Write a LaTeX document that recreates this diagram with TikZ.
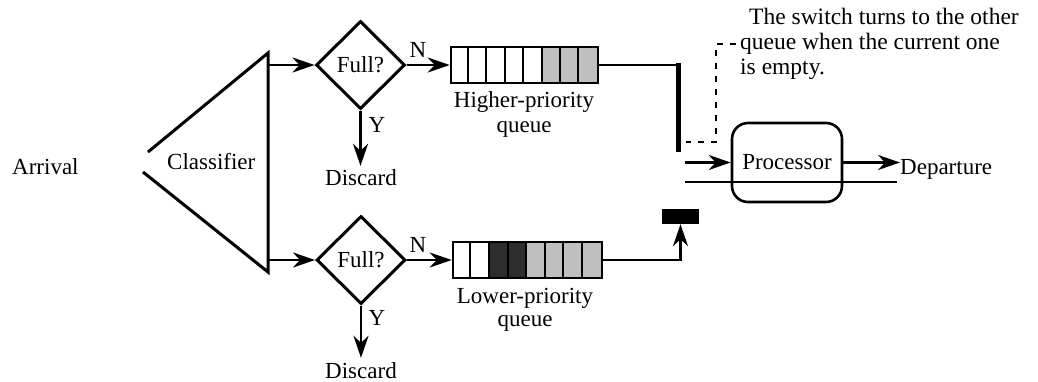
\documentclass[tikz,border=0pt]{standalone}
\usepackage{fontspec}
\setmainfont{Liberation Serif}
\usetikzlibrary{arrows.meta,shapes.geometric,calc}
\begin{document}
\begin{tikzpicture}[x=1pt,y=-1pt,
  txt/.style={font=\fontsize{23}{26}\selectfont, inner sep=0pt},
  note/.style={font=\fontsize{23.5}{26}\selectfont, inner sep=0pt, anchor=base west},
  arr/.style={line width=2.6pt, -{Stealth[length=22pt,width=15pt,inset=7pt]}},
  plain/.style={line width=2.6pt},
  decision/.style={diamond, draw, line width=3pt, minimum width=89pt, minimum height=88pt, inner sep=0pt, font=\fontsize{23}{26}\selectfont},
  queuebox/.style={draw, line width=2.6pt, minimum height=36pt, inner sep=0pt},
  procbox/.style={draw, line width=2.6pt, rounded corners=16pt, minimum width=110pt, minimum height=79pt, inner sep=0pt, font=\fontsize{23}{26}\selectfont},
  switchbar/.style={fill=black, inner sep=0pt},
  cellline/.style={line width=2pt},
  lightcell/.style={fill=black!25},
  darkcell/.style={fill=black!82},
  dashline/.style={line width=1.6pt, dash pattern=on 6pt off 7pt},
]
\useasboundingbox (0,0) rectangle (1038,381);

% Arrival and classifier
\node[txt, anchor=base west] (arrival) at (12,174) {Arrival};
\coordinate (t1) at (148,152);
\coordinate (t2) at (268,53);
\coordinate (t3) at (268,272);
\coordinate (t4) at (143,172);
\draw[line width=3pt, line join=miter] (t1) -- (t2) -- (t3) -- (t4);
\node[txt, anchor=base west] (cls) at (167,169) {Classifier};
\coordinate (c1) at (268,65);
\coordinate (c2) at (268,260);

% Decisions
\node[decision] (d1) at (360.5,65) {Full?};
\node[decision] (d2) at (361,260) {Full?};
\draw[arr] (c1) -- (d1.west);
\draw[arr] (c2) -- (d2.west);

\node[txt, anchor=base] (n1) at (418,57) {N};
\node[txt, anchor=base] (n2) at (418,252) {N};
\node[txt, anchor=base] (y1) at (377,132) {Y};
\node[txt, anchor=base] (y2) at (377,325) {Y};
\node[txt, anchor=base] (disc1) at (361,185) {Discard};
\node[txt, anchor=base] (disc2) at (361,378) {Discard};
\draw[arr, shorten >=3pt] (d1.south) -- (d1.south |- disc1.north);
\draw[arr, shorten >=4pt] (d2.south) -- (d2.south |- disc2.north);

% Queues
\node[queuebox, minimum width=147pt] (hq) at (524.5,65) {};
\node[queuebox, minimum width=149pt] (lq) at (527.5,260) {};
\foreach \i in {5,6,7}
  \fill[lightcell] ($(hq.west)+(\i*18.375,-17)$) rectangle ($(hq.west)+(\i*18.375+18.375,17)$);
\foreach \i in {2,3}
  \fill[darkcell] ($(lq.west)+(\i*18.625,-17)$) rectangle ($(lq.west)+(\i*18.625+18.625,17)$);
\foreach \i in {4,5,6,7}
  \fill[lightcell] ($(lq.west)+(\i*18.625,-17)$) rectangle ($(lq.west)+(\i*18.625+18.625,17)$);
\foreach \i in {1,...,7} {
  \draw[cellline] ($(hq.north west)+(\i*18.375,0)$) -- ($(hq.south west)+(\i*18.375,0)$);
  \draw[cellline] ($(lq.north west)+(\i*18.625,0)$) -- ($(lq.south west)+(\i*18.625,0)$);
}
\draw[arr] (d1.east) -- (hq.west);
\draw[arr] (d2.east) -- (lq.west);
\node[txt, anchor=base] (hl1) at (524,107) {Higher-priority};
\node[txt, anchor=base] (hl2) at (524,132) {queue};
\node[txt, anchor=base] (ll1) at (525,303) {Lower-priority};
\node[txt, anchor=base] (ll2) at (525,326) {queue};

% Switch
\node[switchbar, minimum width=5pt, minimum height=89pt] (sw1) at (678,107.5) {};
\node[switchbar, minimum width=37pt, minimum height=15pt] (sw2) at (680.5,216.5) {};
\draw[plain] (hq.east) -- (hq.east -| sw1.center);
\draw[arr] (lq.east) -| (sw2.south);

% Annotation
\node[note] (a1) at (749,24) {The switch turns to the other};
\node[note] (a2) at (740,49) {queue when the current one};
\node[note] (a3) at (740,74) {is empty.};
\coordinate (nt) at (736,44);
\coordinate (dc) at (716,142);
\coordinate (dend) at (686,142);
\draw[dashline] (nt) -| (dc) -- (dend);

% Processor
\node[procbox] (proc) at (787,162.5) {Processor};
\coordinate (pin) at (685,162.5);
\draw[arr] (pin) -- (proc.west);
\coordinate (la) at (685,182);
\coordinate (lb) at (897,182);
\draw[line width=1.8pt] (la) -- (lb);
\node[txt, anchor=base west] (dep) at (900,174) {Departure};
\draw[arr] (proc.east) -- (proc.east -| dep.west);
\end{tikzpicture}
\end{document}
